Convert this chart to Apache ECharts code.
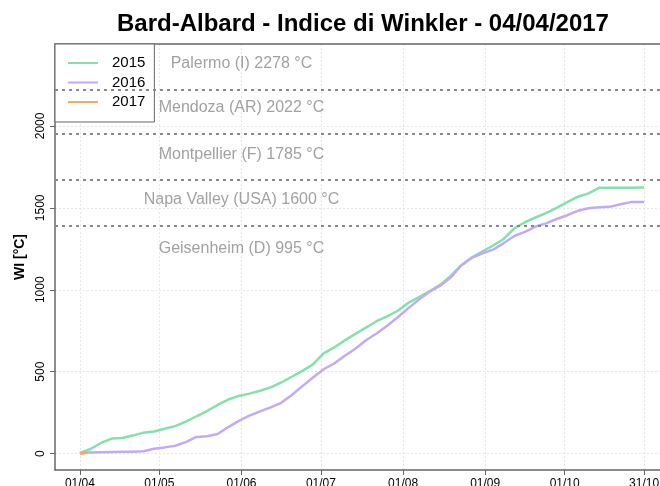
<!DOCTYPE html>
<html>
<head>
<meta charset="utf-8">
<script src="https://cdn.jsdelivr.net/npm/echarts@6/dist/echarts.min.js"></script>
<style>
  html, body { margin: 0; padding: 0; background: #fff; }
  #chart { width: 660px; height: 486px; }
</style>
</head>
<body>
<div id="chart"></div>
<script>
// giorni dal 01/04
const days = [0, 4, 8, 12, 16, 20, 24, 28, 32, 36, 40, 44, 48, 52, 56, 60, 64, 68, 72, 76,
  80, 84, 88, 92, 96, 100, 104, 108, 112, 116, 120, 124, 128, 132, 136, 140, 144, 148, 152, 156,
  160, 164, 168, 172, 176, 180, 184, 188, 192, 196, 200, 204, 208, 213]

const wi2015 = [4, 28, 65, 92, 95, 110, 128, 135, 152, 168, 195, 228, 260, 297, 330, 352, 366, 384, 404, 434,
  469, 505, 545, 612, 648, 691, 731, 769, 808, 838, 872, 920, 955, 990, 1030, 1085, 1150, 1198, 1235, 1270,
  1310, 1375, 1412, 1441, 1468, 1500, 1535, 1568, 1588, 1622, 1623, 1623, 1623, 1624]

const wi2016 = [4, 7, 9, 10, 11, 12, 14, 30, 38, 48, 70, 102, 106, 120, 162, 200, 232, 258, 282, 310,
  358, 412, 465, 515, 550, 597, 640, 692, 733, 780, 832, 888, 940, 988, 1025, 1075, 1148, 1195, 1223, 1245,
  1285, 1328, 1353, 1386, 1405, 1432, 1455, 1482, 1498, 1503, 1506, 1522, 1535, 1535]

const days2017 = [0, 1, 2, 3]
const wi2017 = [0, 1, 3, 5]

// tick asse x
const tickDays = [0, 30, 61, 91, 122, 153, 183, 213]
const tickLabels = ['01/04', '01/05', '01/06', '01/07', '01/08', '01/09', '01/10', '31/10']
const yTicks = [0, 500, 1000, 1500, 2000]

// riferimenti
const refNames = ['Palermo (I) 2278 °C', 'Mendoza (AR) 2022 °C', 'Montpellier (F) 1785 °C',
  'Napa Valley (USA) 1600 °C', 'Geisenheim (D) 995 °C']
const refLabelY = [2383, 2109, 1824, 1549, 1249]
const refLabelDay = [61, 61, 61, 61, 61]
const refLines = [2223, 1951, 1671, 1392]

const pairs = (xs, ys) => xs.map((x, i) => [x, ys[i]])

const chart = echarts.init(document.getElementById('chart'))

const axisLineStyle = { color: '#666', width: 1.5 }
const gridLine = { show: true, lineStyle: { color: '#e6e6e6', type: [2, 2], width: 1 } }

const option = {
  animation: false,
  textStyle: { fontFamily: 'Liberation Sans, Arial, sans-serif' },
  title: {
    text: 'Bard-Albard - Indice di Winkler - 04/04/2017',
    left: 117,
    top: 12,
    padding: 0,
    textStyle: { fontSize: 24, fontWeight: 'bold', color: '#000', fontFamily: 'Liberation Sans' }
  },
  legend: {
    data: ['2015', '2016', '2017'],
    orient: 'vertical',
    left: 55,
    top: 44,
    padding: [11, 9, 12, 13],
    itemGap: 3.5,
    itemWidth: 30,
    itemHeight: 2,
    icon: 'rect',
    backgroundColor: '#fff',
    borderColor: '#666',
    borderWidth: 1,
    borderRadius: 0,
    textStyle: { fontSize: 15, color: '#000', lineHeight: 16, padding: [0, 0, 0, 9] }
  },
  grid: { left: 55, top: 44, right: 0, bottom: 16, outerBoundsMode: 'none', containLabel: false },
  xAxis: [{
    type: 'value',
    min: -9.4,
    max: 219,
    axisLine: { show: true, onZero: false, lineStyle: axisLineStyle },
    axisTick: { show: true, length: 5, customValues: tickDays, lineStyle: { color: '#666' } },
    axisLabel: {
      customValues: tickDays,
      margin: 8,
      fontSize: 12,
      color: '#000',
      formatter: v => tickLabels[tickDays.indexOf(v)]
    },
    splitLine: gridLine
  }, {
    type: 'value',
    position: 'top',
    min: -9.4,
    max: 219,
    axisLine: { show: true, onZero: false, lineStyle: axisLineStyle },
    axisTick: { show: false },
    axisLabel: { show: false },
    splitLine: { show: false }
  }],
  yAxis: {
    type: 'value',
    min: -100,
    max: 2500,
    name: 'WI [°C]',
    nameLocation: 'middle',
    nameGap: 28,
    nameTextStyle: { fontSize: 14, fontWeight: 'bold', color: '#000' },
    axisLine: { show: true, onZero: false, lineStyle: axisLineStyle },
    axisTick: { show: true, length: 5, customValues: yTicks, lineStyle: { color: '#666' } },
    axisLabel: {
      customValues: yTicks, rotate: 90, margin: 8, fontSize: 12, color: '#000',
      formatter: v => String(v)
    },
    splitLine: gridLine
  },
  series: [
    {
      name: '2015', type: 'line', data: pairs(days, wi2015), showSymbol: false,
      color: '#86dfae', lineStyle: { width: 2.5 }, z: 3
    },
    {
      name: '2016', type: 'line', data: pairs(days, wi2016), showSymbol: false,
      color: '#c2aaf7', lineStyle: { width: 2.5 }, z: 3
    },
    {
      name: '2017', type: 'line', data: pairs(days2017, wi2017), showSymbol: false,
      color: '#f7a96a', lineStyle: { width: 2.5 }, z: 4
    },
    {
      name: 'rif', type: 'scatter', symbolSize: 0, silent: true,
      data: refNames.map((n, i) => ({ name: n, value: [refLabelDay[i], refLabelY[i]] })),
      label: { show: true, position: 'inside', formatter: p => p.name, fontSize: 16, color: '#8a8a8a' },
      markLine: {
        silent: true, symbol: 'none', label: { show: false },
        lineStyle: { color: '#888', type: [3, 4], width: 2 },
        data: refLines.map(v => ({ yAxis: v }))
      }
    }
  ]
}

chart.setOption(option)
</script>
</body>
</html>
